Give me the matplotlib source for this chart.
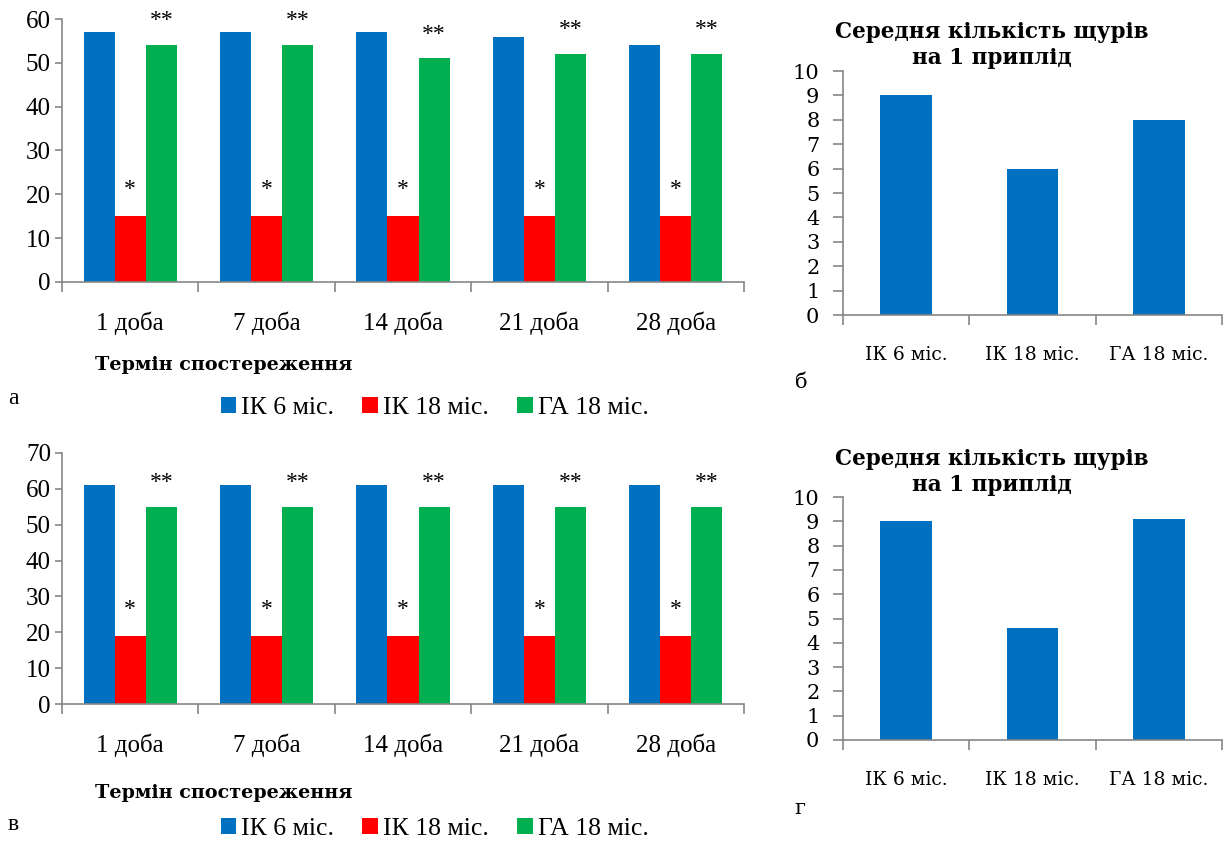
import matplotlib
matplotlib.use("Agg")
import matplotlib.pyplot as plt
import numpy as np

# Observation days and groups
days = ["1 доба", "7 доба", "14 доба", "21 доба", "28 доба"]
groups = ["ІК 6 міс.", "ІК 18 міс.", "ГА 18 міс."]

# Panel а
a_ik6 = [57, 57, 57, 56, 54]
a_ik18 = [15, 15, 15, 15, 15]
a_ga18 = [54, 54, 51, 52, 52]

# Panel в
v_ik6 = [61, 61, 61, 61, 61]
v_ik18 = [19, 19, 19, 19, 19]
v_ga18 = [55, 55, 55, 55, 55]

# Panels б and г: mean litter size
b_litter = [9.0, 6.0, 8.0]
g_litter = [9.0, 4.6, 9.1]

BLUE, RED, GREEN = "#0070C0", "#FF0000", "#00B050"
AXIS = "#868686"
SERIF_L = "Liberation Serif"
SERIF_R = "DejaVu Serif"

fig = plt.figure(figsize=(12.31, 8.41), dpi=100)


def style_axes(ax):
    for s in ("top", "right"):
        ax.spines[s].set_visible(False)
    for s in ("left", "bottom"):
        ax.spines[s].set_color(AXIS)
        ax.spines[s].set_linewidth(1.2)


def grouped_panel(rect, ik6, ik18, ga18, ymax):
    ax = fig.add_axes(rect)
    style_axes(ax)
    x = np.arange(len(days))
    w = 0.228
    b1 = ax.bar(x - w, ik6, w, color=BLUE, label=groups[0])
    b2 = ax.bar(x, ik18, w, color=RED, label=groups[1])
    b3 = ax.bar(x + w, ga18, w, color=GREEN, label=groups[2])
    for xi, v in zip(x, ik18):
        ax.annotate("*", (xi, v), xytext=(0, 19), textcoords="offset points",
                    ha="center", va="center", fontsize=17, family=SERIF_L)
    for xi, v in zip(x + w, ga18):
        ax.annotate("**", (xi, v), xytext=(0, 17.5), textcoords="offset points",
                    ha="center", va="center", fontsize=17, family=SERIF_L,
                    annotation_clip=False)
    ax.set_xlim(-0.5, len(days) - 0.5)
    ax.set_ylim(0, ymax)
    ax.set_yticks(np.arange(0, ymax + 1, 10))
    ax.set_xticks(x)
    ax.set_xticklabels(days)
    ax.set_xticks(np.arange(-0.5, len(days)), minor=True)
    ax.tick_params(axis="x", which="major", length=0, pad=21.5)
    ax.tick_params(axis="x", which="minor", length=7, color=AXIS, width=1.2)
    ax.tick_params(axis="y", length=5, color=AXIS, width=1.2, pad=3)
    for lab in ax.get_xticklabels() + ax.get_yticklabels():
        lab.set_family(SERIF_L)
        lab.set_fontsize(18)
    return ax, (b1, b2, b3)


def litter_panel(rect, values):
    ax = fig.add_axes(rect)
    style_axes(ax)
    x = np.arange(len(groups))
    ax.bar(x, values, 0.41, color=BLUE)
    ax.set_xlim(-0.5, len(groups) - 0.5)
    ax.set_ylim(0, 10)
    ax.set_yticks(range(0, 11))
    ax.set_xticks(x)
    ax.set_xticklabels(groups)
    ax.set_xticks(np.arange(-0.5, len(groups)), minor=True)
    ax.tick_params(axis="x", which="major", length=0, pad=22.5)
    ax.tick_params(axis="x", which="minor", length=7, color=AXIS, width=1.2)
    ax.tick_params(axis="y", length=7, color=AXIS, width=1.2, pad=10)
    for lab in ax.get_yticklabels():
        lab.set_family(SERIF_R)
        lab.set_fontsize(15)
    for lab in ax.get_xticklabels():
        lab.set_family(SERIF_R)
        lab.set_fontsize(13.5)
    return ax


ax_a, bars_a = grouped_panel([0.0504, 0.6647, 0.554, 0.3127], a_ik6, a_ik18, a_ga18, 60)
ax_v, bars_v = grouped_panel([0.0504, 0.1629, 0.554, 0.2985], v_ik6, v_ik18, v_ga18, 70)
ax_b = litter_panel([0.6848, 0.6254, 0.3079, 0.2901], b_litter)
ax_g = litter_panel([0.6848, 0.1201, 0.3079, 0.2889], g_litter)

title = "Середня кількість щурів\nна 1 приплід"
for ytop in (1 - 21 / 841, 1 - 448 / 841):
    fig.text(0.806, ytop, title, ha="center", va="top", fontsize=15.5,
             family=SERIF_R, weight="bold", linespacing=1.25)

for ycen in (1 - 365 / 841, 1 - 793 / 841):
    fig.text(0.0772, ycen, "Термін спостереження", ha="left", va="center",
             fontsize=13.8, family=SERIF_R, weight="bold")

for ycen, bars in ((1 - 408 / 841, bars_a), (1 - 829 / 841, bars_v)):
    fig.legend(bars, groups, loc="center", bbox_to_anchor=(0.353, ycen),
               ncol=3, frameon=False, prop={"family": SERIF_L, "size": 18.5},
               handlelength=0.6, handleheight=0.6, handletextpad=0.2,
               columnspacing=1.1, borderaxespad=0, borderpad=0)

fig.text(0.0065, 1 - 398 / 841, "а", ha="left", va="center", fontsize=17, family=SERIF_L)
fig.text(0.0065, 1 - 824 / 841, "в", ha="left", va="center", fontsize=17, family=SERIF_L)
fig.text(0.6455, 1 - 382 / 841, "б", ha="left", va="center", fontsize=15, family=SERIF_R)
fig.text(0.6455, 1 - 808 / 841, "г", ha="left", va="center", fontsize=15, family=SERIF_R)

fig.savefig("out.png", dpi=100, facecolor="white")
